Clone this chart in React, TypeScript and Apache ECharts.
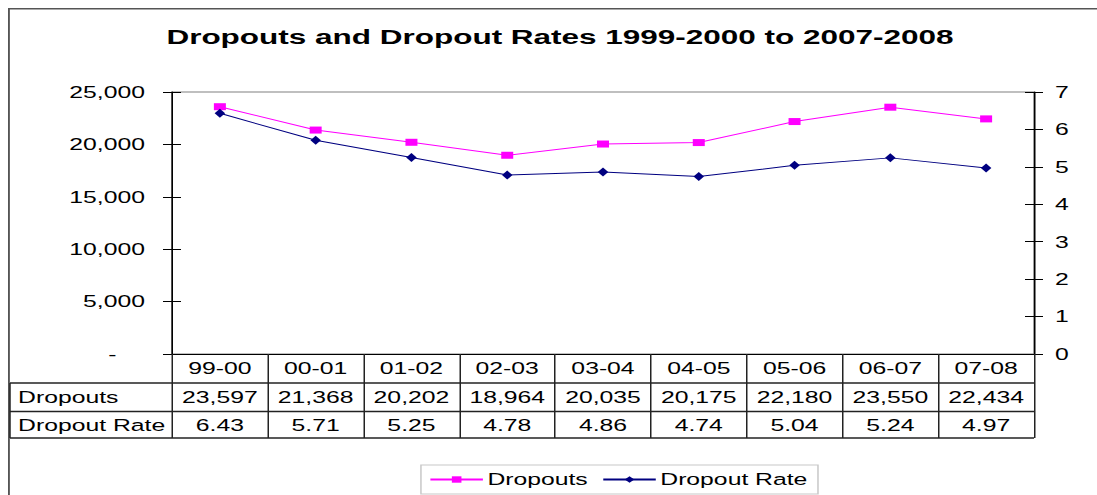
import React, { useEffect, useRef } from "react";
import * as echarts from "echarts";

const categories = ["99-00", "00-01", "01-02", "02-03", "03-04", "04-05", "05-06", "06-07", "07-08"];
const dropouts = [23597, 21368, 20202, 18964, 20035, 20175, 22180, 23550, 22434];
const dropoutRates = [6.43, 5.71, 5.25, 4.78, 4.86, 4.74, 5.04, 5.24, 4.97];
const leftTicks = [0, 5000, 10000, 15000, 20000, 25000];
const rightTicks = [0, 1, 2, 3, 4, 5, 6, 7];
const titleText = "Dropouts and Dropout Rates 1999-2000 to 2007-2008";
const rowHeaders = ["Dropouts", "Dropout Rate"];

const FONT = "'Liberation Sans', Arial, sans-serif";
const FS = 16.5;

function withCommas(v: number): string {
  const s = String(Math.round(v));
  return s.replace(/\B(?=(\d{3})+(?!\d))/g, ",");
}

export default function App() {
  const ref = useRef<HTMLDivElement>(null);
  useEffect(() => {
    document.body.style.marginRight = "0px";
    document.body.style.marginBottom = "0px";
    if (!ref.current) return;
    const chart = echarts.init(ref.current, null, { renderer: "svg" });
    const gridLeft = 109.33;
    const gridWidth = 574.67;
    const gridTop = 84;
    const gridHeight = 262;
    const axisBottom = gridTop + gridHeight; // 346
    const row1 = 375;
    const row2 = 403.5;
    const row3 = 430;
    const tableLeft = 1.33;
    const tableRight = gridLeft + gridWidth;
    const lineColor = "#222";

    const yCommon = {
      type: "value" as const,
      splitLine: { show: false },
    };

    chart.setOption({
      animation: false,
      textStyle: { fontFamily: FONT },
      title: {
        text: titleText,
        left: "center",
        top: 13,
        textStyle: { fontFamily: FONT, fontSize: 21, fontWeight: "bold", color: "#000" },
      },
      grid: {
        left: gridLeft,
        top: gridTop,
        width: gridWidth,
        height: gridHeight,
        show: true,
        borderColor: "#808080",
        borderWidth: 1,
        backgroundColor: "transparent",
      },
      legend: {
        left: 275.3,
        top: 457,
        padding: [6, 7, 6, 5.3],
        itemWidth: 35,
        itemHeight: 8,
        itemGap: 9.3,
        borderColor: "#c8c8c8",
        borderWidth: 1,
        textStyle: { fontFamily: FONT, fontSize: FS, color: "#000", padding: [0, 0, 0, -2] },
        data: ["Dropouts", "Dropout Rate"],
      },
      xAxis: [
        {
          type: "category",
          data: categories,
          position: "bottom",
          boundaryGap: true,
          axisLine: { show: true, lineStyle: { color: "#000", width: 1 } },
          axisTick: { show: true, interval: 0, length: row3 - axisBottom, lineStyle: { color: lineColor, width: 1 } },
          axisLabel: {
            interval: 0,
            margin: (row1 - axisBottom) / 2,
            verticalAlign: "middle",
            fontFamily: FONT,
            fontSize: FS,
            color: "#000",
          },
        },
        {
          type: "category",
          data: dropouts.map(withCommas),
          position: "bottom",
          boundaryGap: true,
          axisLine: { show: false },
          axisTick: { show: false },
          axisLabel: {
            interval: 0,
            margin: (row1 + row2) / 2 - axisBottom,
            verticalAlign: "middle",
            fontFamily: FONT,
            fontSize: FS,
            color: "#000",
          },
        },
        {
          type: "category",
          data: dropoutRates.map((v) => v.toFixed(2)),
          position: "bottom",
          boundaryGap: true,
          axisLine: { show: false },
          axisTick: { show: false },
          axisLabel: {
            interval: 0,
            margin: (row2 + row3) / 2 - axisBottom,
            verticalAlign: "middle",
            fontFamily: FONT,
            fontSize: FS,
            color: "#000",
          },
        },
      ],
      yAxis: [
        {
          ...yCommon,
          position: "left",
          min: leftTicks[0],
          max: leftTicks[leftTicks.length - 1],
          interval: 5000,
          axisLine: { show: true, lineStyle: { color: "#000", width: 1 } },
          axisTick: { show: true, length: 6, lineStyle: { color: "#000", width: 1 } },
          axisLabel: {
            margin: 18,
            fontFamily: FONT,
            fontSize: FS,
            color: "#000",
            formatter: (v: number) => (v === 0 ? "{d|-}" : withCommas(v)),
            rich: { d: { fontFamily: FONT, fontSize: FS, color: "#000", padding: [0, 19, 0, 0] } },
          },
        },
        {
          ...yCommon,
          position: "left",
          min: leftTicks[0],
          max: leftTicks[leftTicks.length - 1],
          interval: 5000,
          axisLine: { show: false },
          axisTick: { show: true, inside: true, length: 6, lineStyle: { color: "#000", width: 1 } },
          axisLabel: { show: false },
        },
        {
          ...yCommon,
          position: "right",
          min: rightTicks[0],
          max: rightTicks[rightTicks.length - 1],
          interval: 1,
          axisLine: { show: true, lineStyle: { color: "#000", width: 1 } },
          axisTick: { show: true, length: 6, lineStyle: { color: "#000", width: 1 } },
          axisLabel: { margin: 14, fontFamily: FONT, fontSize: FS, color: "#000" },
        },
        {
          ...yCommon,
          position: "right",
          min: rightTicks[0],
          max: rightTicks[rightTicks.length - 1],
          interval: 1,
          axisLine: { show: false },
          axisTick: { show: true, inside: true, length: 6, lineStyle: { color: "#000", width: 1 } },
          axisLabel: { show: false },
        },
      ],
      series: [
        {
          name: "Dropouts",
          type: "line",
          xAxisIndex: 0,
          yAxisIndex: 0,
          data: dropouts,
          symbol: "rect",
          symbolSize: [8, 7],
          lineStyle: { color: "#ff00ff", width: 1 },
          itemStyle: { color: "#ff00ff" },
          z: 3,
        },
        {
          name: "Dropout Rate",
          type: "line",
          xAxisIndex: 0,
          yAxisIndex: 2,
          data: dropoutRates,
          symbol: "diamond",
          symbolSize: [7, 9],
          lineStyle: { color: "#000080", width: 1 },
          itemStyle: { color: "#000080" },
          z: 3,
        },
      ],
      graphic: [
        {
          type: "line",
          shape: { x1: 0, y1: 0.75, x2: 736, y2: 0.75 },
          style: { stroke: "#555", lineWidth: 1.5 },
          silent: true,
        },
        {
          type: "line",
          shape: { x1: 0.5, y1: 0, x2: 0.5, y2: 495 },
          style: { stroke: "#555", lineWidth: 1.5 },
          silent: true,
        },
        {
          type: "line",
          shape: { x1: tableLeft, y1: row1, x2: tableRight, y2: row1 },
          style: { stroke: lineColor, lineWidth: 1.5 },
        },
        {
          type: "line",
          shape: { x1: tableLeft, y1: row2, x2: tableRight, y2: row2 },
          style: { stroke: lineColor, lineWidth: 1.5 },
        },
        {
          type: "line",
          shape: { x1: tableLeft, y1: row3, x2: tableRight, y2: row3 },
          style: { stroke: lineColor, lineWidth: 1.5 },
        },
        {
          type: "line",
          shape: { x1: tableLeft, y1: row1, x2: tableLeft, y2: row3 },
          style: { stroke: lineColor, lineWidth: 1 },
        },
        {
          type: "text",
          x: 6.7,
          y: (row1 + row2) / 2,
          style: {
            text: rowHeaders[0],
            fontFamily: FONT,
            fontSize: FS,
            fill: "#000",
            textAlign: "left",
            textVerticalAlign: "middle",
          },
        },
        {
          type: "text",
          x: 6.7,
          y: (row2 + row3) / 2,
          style: {
            text: rowHeaders[1],
            fontFamily: FONT,
            fontSize: FS,
            fill: "#000",
            textAlign: "left",
            textVerticalAlign: "middle",
          },
        },
      ],
    });
    return () => {
      chart.dispose();
    };
  }, []);

  return (
    <div
      style={{
        width: 1089,
        height: 487,
        overflow: "hidden",
        position: "relative",
      }}
    >
      <div
        style={{
          width: 736,
          height: 495,
          transform: "scaleX(1.5)",
          transformOrigin: "0 0",
          position: "absolute",
          left: 0,
          top: 0,
        }}
      >
        <div ref={ref} style={{ width: 736, height: 495 }} />
      </div>
    </div>
  );
}
